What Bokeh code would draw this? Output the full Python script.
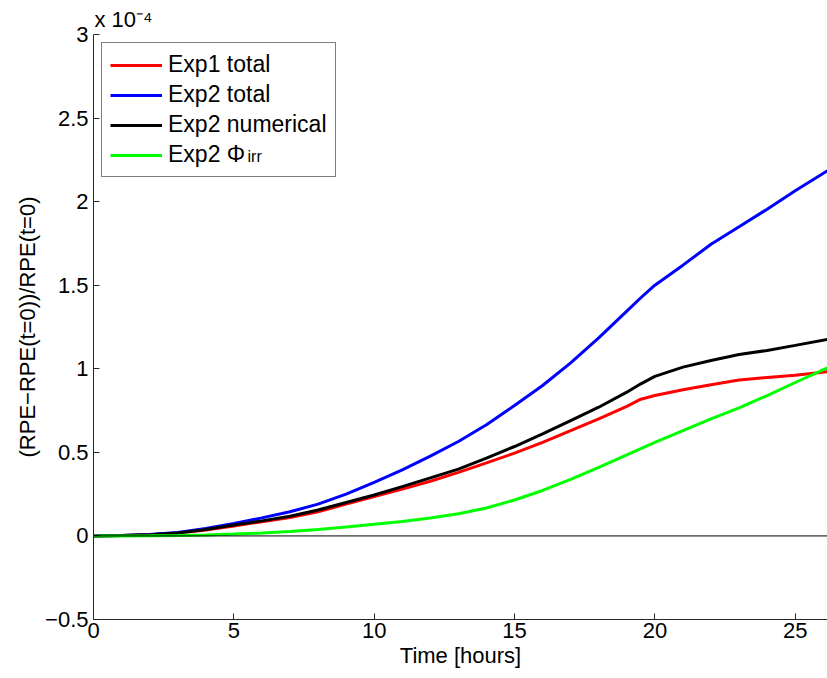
from bokeh.plotting import figure
from bokeh.models import (Range1d, FixedTicker, Span, Legend, LegendItem, Label)
from bokeh.embed import file_html
from bokeh.resources import INLINE

# Time [hours]
t = [0, 1, 2, 3, 4, 5, 6, 7, 8, 9, 10, 11, 12, 13, 14, 15, 16, 17, 18, 19,
     19.5, 20, 21, 22, 23, 24, 25, 26.15]
# values in units of 1e-4
exp1_total = [0, 0.002, 0.007, 0.017, 0.035, 0.06, 0.085, 0.11, 0.145, 0.19,
              0.235, 0.28, 0.327, 0.38, 0.437, 0.495, 0.56, 0.63, 0.7, 0.775,
              0.818, 0.84, 0.875, 0.905, 0.933, 0.948, 0.962, 0.982]
exp2_total = [0, 0.002, 0.008, 0.02, 0.045, 0.075, 0.108, 0.145, 0.19, 0.25,
              0.32, 0.395, 0.477, 0.565, 0.665, 0.78, 0.9, 1.035, 1.185, 1.345,
              1.425, 1.5, 1.62, 1.745, 1.85, 1.955, 2.065, 2.185]
exp2_numerical = [0, 0.002, 0.007, 0.018, 0.038, 0.065, 0.09, 0.118, 0.155, 0.2,
                  0.245, 0.295, 0.347, 0.4, 0.465, 0.535, 0.61, 0.69, 0.77, 0.86,
                  0.91, 0.955, 1.01, 1.05, 1.085, 1.11, 1.14, 1.176]
exp2_phi_irr = [0, 0.0, 0.001, 0.003, 0.006, 0.011, 0.018, 0.026, 0.038, 0.053,
                0.07, 0.087, 0.107, 0.133, 0.167, 0.215, 0.272, 0.338, 0.41, 0.485,
                0.522, 0.56, 0.63, 0.7, 0.766, 0.84, 0.918, 1.006]

y_ticks = [-0.5, 0, 0.5, 1, 1.5, 2, 2.5, 3]
x_ticks = [0, 5, 10, 15, 20, 25]

FONT = "Liberation Sans"

p = figure(width=827, height=678, output_backend="svg", toolbar_location=None,
           x_range=Range1d(0, 26.15), y_range=Range1d(-0.5, 3),
           min_border_left=93, min_border_right=0, min_border_top=34,
           min_border_bottom=59, title="x 10\u207b\u2074")
p.title.align = "left"
p.title.offset = 1
p.title.standoff = 5
p.title.text_font = FONT
p.title.text_font_size = "22px"
p.title.text_font_style = "normal"
p.title.text_color = "black"
p.outline_line_color = None
p.xgrid.visible = False
p.ygrid.visible = False
p.background_fill_color = "white"

for ax in (p.xaxis[0], p.yaxis[0]):
    ax.axis_line_color = "#262626"
    ax.major_tick_line_color = "#262626"
    ax.major_tick_in = 6
    ax.major_tick_out = 0
    ax.minor_tick_line_color = None
    ax.major_label_text_font = FONT
    ax.major_label_text_font_size = "22px"
    ax.major_label_text_color = "black"
    ax.axis_label_text_font = FONT
    ax.axis_label_text_font_size = "22px"
    ax.axis_label_text_font_style = "normal"
    ax.axis_label_text_color = "black"

p.xaxis.ticker = FixedTicker(ticks=x_ticks)
p.yaxis.ticker = FixedTicker(ticks=y_ticks)
p.yaxis.major_label_overrides = {-0.5: "\u22120.5", 0: "0", 0.5: "0.5", 1: "1",
                                 1.5: "1.5", 2: "2", 2.5: "2.5", 3: "3"}
p.xaxis.major_label_standoff = 3
p.yaxis.major_label_standoff = 5
p.xaxis.axis_label = "Time [hours]"
p.yaxis.axis_label = "(RPE\u2212RPE(t=0))/RPE(t=0)"
p.xaxis.axis_label_standoff = 2
p.yaxis.axis_label_standoff = 2

p.add_layout(Span(location=0, dimension="width", line_color="black", line_width=1))

lw = 3
r1 = p.line(t, exp1_total, line_color="#ff0000", line_width=lw)
r2 = p.line(t, exp2_total, line_color="#0000ff", line_width=lw)
r3 = p.line(t, exp2_numerical, line_color="black", line_width=lw)
r4 = p.line(t, exp2_phi_irr, line_color="#00ff00", line_width=lw)

legend = Legend(items=[LegendItem(label="Exp1 total", renderers=[r1]),
                       LegendItem(label="Exp2 total", renderers=[r2]),
                       LegendItem(label="Exp2 numerical", renderers=[r3]),
                       LegendItem(label="Exp2 \u03a6", renderers=[r4])],
                location="top_left", margin=8, padding=8, spacing=3,
                label_height=24, glyph_height=24, glyph_width=52,
                label_standoff=6, label_text_font=FONT,
                label_text_color="black",
                label_text_font_size="23px", border_line_color="black",
                border_line_width=1, background_fill_alpha=0)
p.add_layout(legend)

# subscript of the Phi in the legend (screen coords relative to the frame)
sub = Label(x=154, y=455, x_units="screen", y_units="screen", text="irr",
            text_font=FONT, text_font_size="16px", text_color="black",
            level="overlay")
p.add_layout(sub)

open("out.html", "w").write(file_html(p, INLINE))
